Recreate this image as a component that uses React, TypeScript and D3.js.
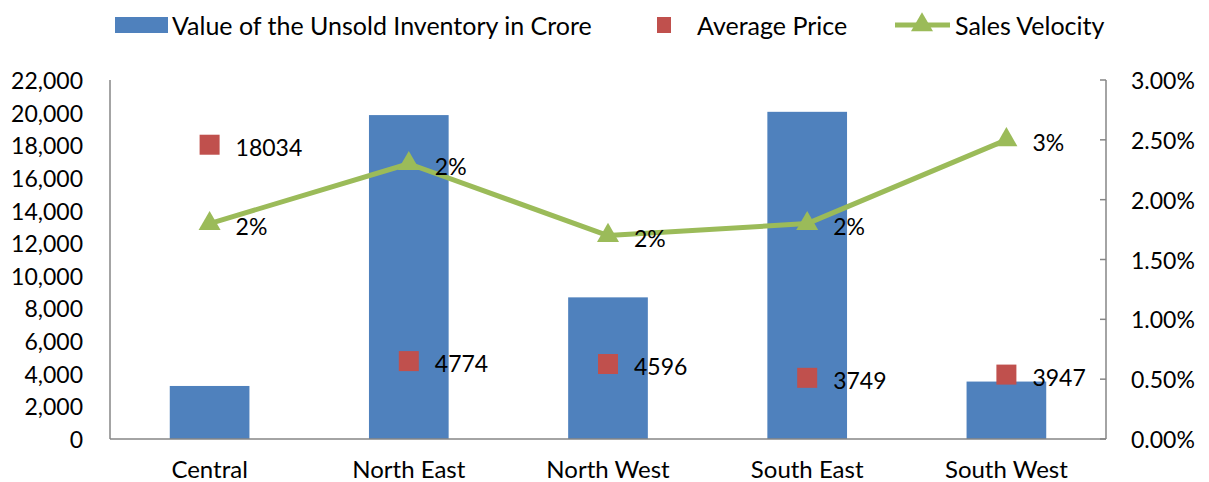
import React from "react";
import * as d3 from "d3";

const categories = ["Central", "North East", "North West", "South East", "South West"];
const inventoryValues = [3250, 19850, 8680, 20050, 3520];
const averagePrice = [18034, 4774, 4596, 3749, 3947];
const salesVelocity = [1.8, 2.3, 1.7, 1.8, 2.5]; // percent
const leftTicks = [0, 2000, 4000, 6000, 8000, 10000, 12000, 14000, 16000, 18000, 20000, 22000];
const rightTicks = [0, 0.5, 1, 1.5, 2, 2.5, 3];

const W = 1209;
const H = 482;
const FONT = "Lato, 'Open Sans', sans-serif";
const BLUE = "#4F81BD";
const RED = "#C0504D";
const GREEN = "#9BBB59";
const AXIS = "#868686";

export default function App() {
  const x0 = 110, x1 = 1106, yTop = 80, yBot = 439;
  const x = d3.scaleBand<string>().domain(categories).range([x0, x1]).paddingInner(0.6).paddingOuter(0.3);
  const xc = (c: string) => (x(c) as number) + x.bandwidth() / 2;
  const yL = d3.scaleLinear().domain([0, 22000]).range([yBot, yTop]);
  const yR = d3.scaleLinear().domain([0, 3]).range([yBot, yTop]);
  const fmt = d3.format(",");
  const line = d3.line<number>().x((_, i) => xc(categories[i])).y((d) => yR(d));
  const tri = d3.symbol().type(d3.symbolTriangle).size(210)();
  const fsNum = 23;
  const fsWord = 25;

  return (
    <svg width={W} height={H} style={{ position: "absolute", left: 0, top: 0, background: "#fff" }} fontFamily={FONT}>
      {/* Legend */}
      <g>
        <rect x={115} y={17} width={53} height={16} fill={BLUE} />
        <text x={172} y={25} dominantBaseline="central" fontSize={fsWord} fill="#000">Value of the Unsold Inventory in Crore</text>
        <rect x={657} y={17} width={14} height={16} fill={RED} />
        <text x={697} y={25} dominantBaseline="central" fontSize={fsWord} fill="#000">Average Price</text>
        <line x1={895} x2={950} y1={25} y2={25} stroke={GREEN} strokeWidth={5} />
        <path d={tri as string} transform="translate(922,25)" fill={GREEN} />
        <text x={955} y={25} dominantBaseline="central" fontSize={fsWord} fill="#000">Sales Velocity</text>
      </g>

      {/* Bars */}
      {categories.map((c, i) => (
        <rect key={c} x={x(c)} y={yL(inventoryValues[i])} width={x.bandwidth()} height={yBot - yL(inventoryValues[i])} fill={BLUE} />
      ))}

      {/* Axes */}
      <line x1={x0} x2={x0} y1={yTop} y2={yBot} stroke={AXIS} strokeWidth={1.5} />
      <line x1={x1} x2={x1} y1={yTop} y2={yBot} stroke={AXIS} strokeWidth={1.5} />
      <line x1={x0} x2={x1} y1={yBot} y2={yBot} stroke={AXIS} strokeWidth={1.5} />
      {leftTicks.map((t) => (
        <text key={t} x={83} y={yL(t)} textAnchor="end" dominantBaseline="central" fontSize={fsNum} fill="#000">{fmt(t)}</text>
      ))}
      {rightTicks.map((t) => (
        <g key={t}>
          <line x1={x1 - 6} x2={x1} y1={yR(t)} y2={yR(t)} stroke={AXIS} strokeWidth={1.5} />
          <text x={1131} y={yR(t)} dominantBaseline="central" fontSize={fsNum} fill="#000">{t.toFixed(2)}%</text>
        </g>
      ))}
      {categories.map((c) => (
        <text key={c} x={xc(c)} y={478} textAnchor="middle" fontSize={24} fill="#000">{c}</text>
      ))}

      {/* Sales velocity line */}
      <path d={line(salesVelocity) as string} fill="none" stroke={GREEN} strokeWidth={5} strokeLinejoin="round" />
      {salesVelocity.map((v, i) => (
        <g key={i}>
          <path d={tri as string} transform={`translate(${xc(categories[i])},${yR(v)})`} fill={GREEN} />
          <text x={xc(categories[i]) + 26} y={yR(v) + 2} dominantBaseline="central" fontSize={fsNum} fill="#000">{Math.round(v)}%</text>
        </g>
      ))}

      {/* Average price markers */}
      {averagePrice.map((v, i) => (
        <g key={i}>
          <rect x={xc(categories[i]) - 10} y={yL(v) - 10} width={20} height={20} fill={RED} />
          <text x={xc(categories[i]) + 26} y={yL(v) + 2} dominantBaseline="central" fontSize={fsNum} fill="#000">{v}</text>
        </g>
      ))}
    </svg>
  );
}
